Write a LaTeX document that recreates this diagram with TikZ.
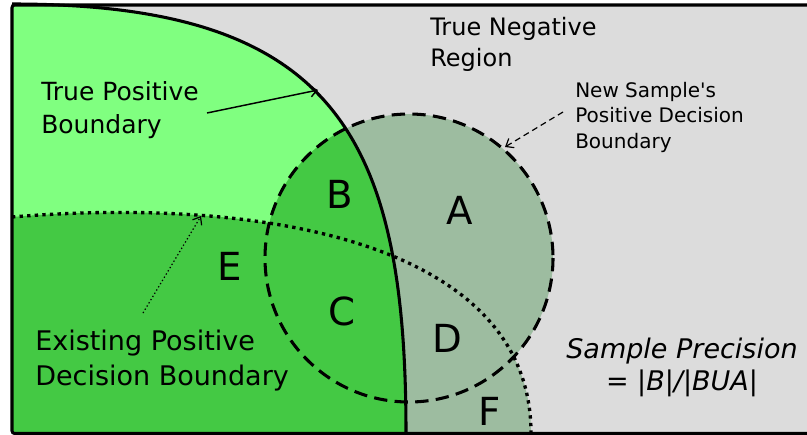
\documentclass[tikz,border=0pt]{standalone}
\usepackage{fontspec}
\setmainfont{DejaVu Sans}[Ligatures=TeXOff]
\usetikzlibrary{arrows.meta}

\definecolor{negGray}{RGB}{220,220,220}
\definecolor{posLight}{RGB}{128,255,128}
\definecolor{posDark}{RGB}{68,201,68}
\definecolor{negGreen}{RGB}{157,188,160}

% region outlines (pixel coordinates)
\newcommand{\truePos}{(12,4) .. controls (332,4) and (406,133) .. (406,433)}
\newcommand{\existPos}{(12,217) .. controls (280,195) and (531,250) .. (531,433)}
\newcommand{\newSample}{(409,258) circle[radius=144]}

\begin{document}
\begin{tikzpicture}[x=0.75pt, y=-0.75pt,
        boundary/.style={line width=2.3pt},
        newbound/.style={line width=2.3pt, dash pattern=on 10pt off 5.5pt},
        oldbound/.style={line width=2.5pt, dash pattern=on 2.5pt off 3.2pt},
        pointer/.style={line width=1.1pt, -{Straight Barb[length=5pt, width=8pt]}},
        letter/.style={font=\fontsize{29pt}{29pt}\selectfont, inner sep=0pt},
        note/.style={align=left, inner sep=0pt, anchor=base west},
    ]
        \useasboundingbox (0,0) rectangle (807,435);
        \fill[white] (0,0) rectangle (807,435);

        % True negative background
        \fill[negGray] (12,5) rectangle (807,433);

        % Decision regions outside the true positives
        \fill[negGreen] \newSample;
        \fill[negGreen] \existPos -- (12,433) -- cycle;

        % Regions inside the true positives
        \begin{scope}
            \clip \truePos -- (12,433) -- cycle;
            \fill[posLight] (12,4) rectangle (406,433);
            \fill[posDark] \newSample;
            \fill[posDark] \existPos -- (12,433) -- cycle;
        \end{scope}

        % Boundaries
        \draw[oldbound] \existPos;
        \draw[newbound] \newSample;
        \draw[boundary] \truePos;

        % Frame
        \draw[line width=2.3pt, rounded corners=2pt] (807,5) -- (12,5) -- (12,433.5) -- (807,433.5);

        % Region letters
        \node[letter] (A) at (460,210) {A};
        \node[letter] (B) at (340,194) {B};
        \node[letter] (C) at (342,311) {C};
        \node[letter] (D) at (447,338) {D};
        \node[letter] (E) at (230,266) {E};
        \node[letter] (F) at (490,411) {F};

        % Labels
        \node[note, font=\fontsize{18.75pt}{24.75pt}\selectfont] (tpLabel) at (41,133)
            {True Positive\\Boundary};
        \node[note, font=\fontsize{18pt}{23.25pt}\selectfont] (tnLabel) at (430,67)
            {True Negative\\Region};
        \node[note, font=\fontsize{15pt}{19.1pt}\selectfont] (nsLabel) at (575,148)
            {New Sample's\\Positive Decision\\Boundary};
        \node[note, font=\fontsize{20.25pt}{26.25pt}\selectfont] (epLabel) at (35,385)
            {Existing Positive\\Decision Boundary};
        \node[align=center, inner sep=0pt, anchor=base,
            font=\fontsize{20.25pt}{24pt}\selectfont\itshape] (precision) at (682,390)
            {Sample Precision\\= |B|/|BUA|};

        % Pointers
        \coordinate (tpFrom) at (207,113);
        \coordinate (tpTo) at (318,90);
        \coordinate (nsFrom) at (563,112);
        \coordinate (nsTo) at (505,147);
        \coordinate (epFrom) at (143,313);
        \coordinate (epTo) at (201,216);
        \draw[pointer] (tpFrom) -- (tpTo);
        \draw[pointer, line width=0.9pt, dash pattern=on 4.5pt off 3pt] (nsFrom) -- (nsTo);
        \draw[pointer, line width=0.9pt, dash pattern=on 1pt off 1.8pt] (epFrom) -- (epTo);
    \end{tikzpicture}
\end{document}
